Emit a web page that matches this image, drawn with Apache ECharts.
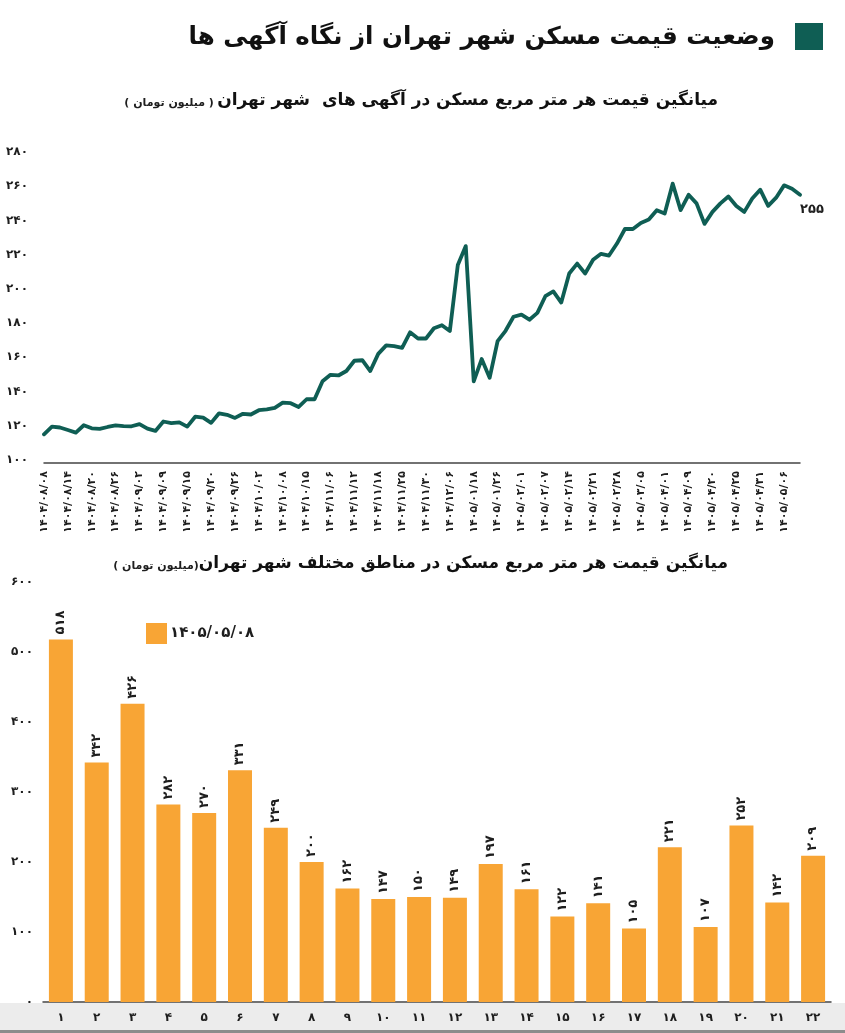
<!DOCTYPE html>
<html>
<head>
<meta charset="utf-8">
<script src="https://cdn.jsdelivr.net/npm/echarts@6/dist/echarts.min.js"></script>
<style>
html,body{margin:0;padding:0;background:#fff;}
#main{width:845px;height:1033px;}
</style>
</head>
<body>
<div id="main"></div>
<script>
// تاریخ ها روی محور (هر سه نقطه یک برچسب)
var dates = ['۱۴۰۴/۰۸/۰۸','۱۴۰۴/۰۸/۱۴','۱۴۰۴/۰۸/۲۰','۱۴۰۴/۰۸/۲۶','۱۴۰۴/۰۹/۰۲','۱۴۰۴/۰۹/۰۹','۱۴۰۴/۰۹/۱۵','۱۴۰۴/۰۹/۲۰',
  '۱۴۰۴/۰۹/۲۶','۱۴۰۴/۱۰/۰۲','۱۴۰۴/۱۰/۰۸','۱۴۰۴/۱۰/۱۵','۱۴۰۴/۱۱/۰۶','۱۴۰۴/۱۱/۱۲','۱۴۰۴/۱۱/۱۸','۱۴۰۴/۱۱/۲۵',
  '۱۴۰۴/۱۱/۳۰','۱۴۰۴/۱۲/۰۶','۱۴۰۵/۰۱/۱۸','۱۴۰۵/۰۱/۲۶','۱۴۰۵/۰۲/۰۱','۱۴۰۵/۰۲/۰۷','۱۴۰۵/۰۲/۱۴','۱۴۰۵/۰۲/۲۱',
  '۱۴۰۵/۰۲/۲۸','۱۴۰۵/۰۳/۰۵','۱۴۰۵/۰۴/۰۱','۱۴۰۵/۰۴/۰۹','۱۴۰۵/۰۴/۲۰','۱۴۰۵/۰۴/۲۵','۱۴۰۵/۰۴/۳۱','۱۴۰۵/۰۵/۰۶'];

// میانگین قیمت هر متر (میلیون تومان)
var prices = [115, 119.5, 119, 117.5, 116, 120.3, 118.5, 118.2, 119.3, 120.2,
  119.8, 119.7, 121, 118.3, 117, 122.5, 121.6, 122, 119.5, 125.3,
  124.8, 121.7, 127.3, 126.4, 124.6, 127, 126.6, 129.1, 129.6, 130.5,
  133.5, 133.2, 131, 135.5, 135.5, 146, 149.8, 149.4, 152, 158,
  158.3, 152, 162, 167, 166.5, 165.5, 174.6, 171, 171, 177,
  178.8, 175.4, 214, 225, 146, 159, 148, 169.5, 175.5, 183.7,
  185, 182, 186, 195.7, 198.5, 192, 209, 214.8, 209, 217,
  220.5, 219.5, 226.5, 235, 235, 238.5, 240.5, 246, 244, 261.5,
  246, 255, 250, 238, 245, 250, 254, 248.5, 245, 252.8,
  258, 248.5, 253.3, 260.5, 258.5, 255];

// مناطق ۲۲ گانه
var districts = ['۱','۲','۳','۴','۵','۶','۷','۸','۹','۱۰','۱۱','۱۲','۱۳','۱۴','۱۵','۱۶','۱۷','۱۸','۱۹','۲۰','۲۱','۲۲'];
var districtPrices = [518, 342, 426, 282, 270, 331, 249, 200, 162, 147, 150, 149, 197, 161, 122, 141, 105, 221, 107, 252, 142, 209];
var barDate = '۱۴۰۵/۰۵/۰۸';

var green = '#0f5e54', orange = '#f8a535', ink = '#1e1e1e';
var ff = 'DejaVu Sans';

function fa(n){
	return String(n).replace(/\d/g, function(d){ return '۰۱۲۳۴۵۶۷۸۹'[d]; });
}

var lineCats = prices.map(function(v, i){
	return i % 3 === 0 && dates[i / 3] ? dates[i / 3] : '';
});

var myChart = echarts.init(document.getElementById('main'));

var option = {
	backgroundColor: '#fff',
	textStyle: { fontFamily: ff },
	animation: false,
	legend: {
		data: [barDate],
		left: 146, top: 623, padding: 0,
		itemWidth: 21, itemHeight: 21, itemGap: 4,
		icon: 'rect',
		textStyle: { fontFamily: ff, fontWeight: 'bold', fontSize: 15, color: ink, padding: [0, 0, 0, -2] }
	},
	grid: [
		{ left: 44, right: 45, top: 152, height: 308 },
		{ left: 43, right: 14, top: 582, height: 420 }
	],
	xAxis: [
		{
			gridIndex: 0, type: 'category', data: lineCats, boundaryGap: false, offset: 3,
			axisLine: { lineStyle: { color: '#444', width: 1.5 } },
			axisTick: { show: false },
			axisLabel: { interval: 0, rotate: 90, margin: 8, fontFamily: ff, fontWeight: 'bold', fontSize: 11, color: ink }
		},
		{
			gridIndex: 1, type: 'category', data: districts,
			axisLine: { lineStyle: { color: '#444', width: 1.5 } },
			axisTick: { show: false },
			axisLabel: { interval: 0, margin: 10, fontFamily: ff, fontWeight: 'bold', fontSize: 12, color: ink }
		}
	],
	yAxis: [
		{
			gridIndex: 0, type: 'value', min: 100, max: 280, interval: 20,
			splitLine: { show: false }, axisLine: { show: false }, axisTick: { show: false },
			axisLabel: { margin: 16, fontFamily: ff, fontWeight: 'bold', fontSize: 12, color: ink, formatter: function(v){ return fa(v); } }
		},
		{
			gridIndex: 1, type: 'value', min: 0, max: 600, interval: 100,
			splitLine: { show: false }, axisLine: { show: false }, axisTick: { show: false },
			axisLabel: { margin: 10, fontFamily: ff, fontWeight: 'bold', fontSize: 12, color: ink, formatter: function(v){ return fa(v); } }
		}
	],
	series: [
		{
			type: 'line', xAxisIndex: 0, yAxisIndex: 0,
			data: prices, symbol: 'none', smooth: false,
			lineStyle: { color: green, width: 3.8, join: 'round', cap: 'round' },
			markPoint: {
				symbol: 'circle', symbolSize: 0,
				label: {
					show: true, position: 'bottom', offset: [12, 3],
					fontFamily: ff, fontWeight: 'bold', fontSize: 13, color: ink,
					formatter: function(p){ return fa(p.value); }
				},
				data: [{ coord: [prices.length - 1, prices[prices.length - 1]], value: prices[prices.length - 1] }]
			}
		},
		{
			name: barDate, type: 'bar', xAxisIndex: 1, yAxisIndex: 1,
			data: districtPrices, barWidth: 24,
			itemStyle: { color: orange },
			label: {
				show: true, position: 'top', rotate: 90, align: 'left', verticalAlign: 'middle', distance: 5,
				fontFamily: ff, fontWeight: 'bold', fontSize: 13, color: ink,
				formatter: function(p){ return fa(p.value); }
			}
		}
	],
	graphic: [
		{ type: 'rect', left: 0, top: 1003, shape: { width: 845, height: 27 }, style: { fill: '#ececec' }, z: -1 },
		{ type: 'rect', left: 0, top: 1030, shape: { width: 845, height: 3 }, style: { fill: '#8c8c8c' }, z: -1 },
		{ type: 'rect', left: 795, top: 23, shape: { width: 28, height: 27 }, style: { fill: green } },
		{
			type: 'text', right: 70, top: 25,
			style: { text: 'وضعیت قیمت مسکن شهر تهران از نگاه آگهی ها', fontFamily: ff, fontWeight: 'bold', fontSize: 24.5, fill: '#111' }
		},
		{
			type: 'text', right: 127, top: 92,
			style: {
				text: '{s|( میلیون تومان )} {t|میانگین قیمت هر متر مربع مسکن در آگهی های  شهر تهران}',
				rich: {
					s: { fontFamily: ff, fontWeight: 'bold', fontSize: 11, fill: ink, verticalAlign: 'bottom' },
					t: { fontFamily: ff, fontWeight: 'bold', fontSize: 17, fill: '#111' }
				}
			}
		},
		{
			type: 'text', right: 117, top: 555,
			style: {
				text: '{s|( میلیون تومان)}{t|میانگین قیمت هر متر مربع مسکن در مناطق مختلف شهر تهران}',
				rich: {
					s: { fontFamily: ff, fontWeight: 'bold', fontSize: 11, fill: ink, verticalAlign: 'bottom' },
					t: { fontFamily: ff, fontWeight: 'bold', fontSize: 17, fill: '#111' }
				}
			}
		}
	]
};

myChart.setOption(option);
</script>
</body>
</html>
